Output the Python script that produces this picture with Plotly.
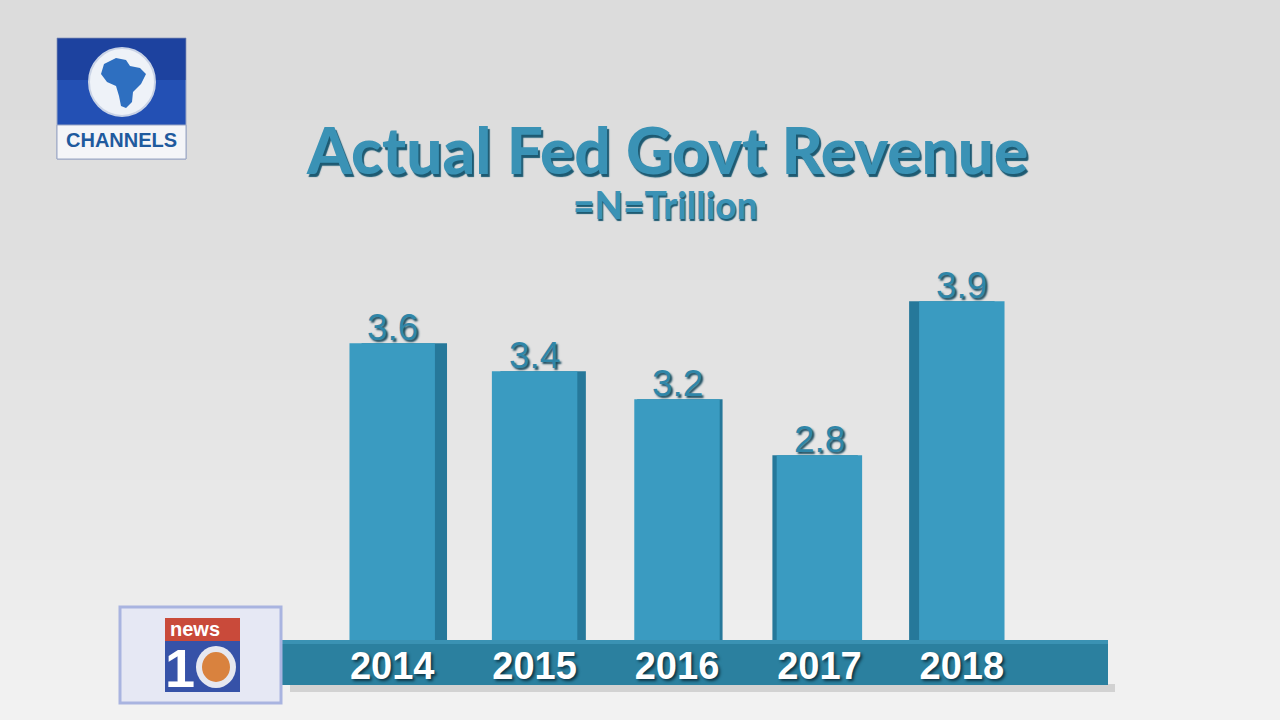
import plotly.graph_objects as go

years = ["2014", "2015", "2016", "2017", "2018"]
revenue = [3.6, 3.4, 3.2, 2.8, 3.9]
value_labels = ["3.6", "3.4", "3.2", "2.8", "3.9"]

title_text = "Actual Fed Govt Revenue"
subtitle_text = "=N=Trillion"

# plot area in pixels (used for placing the decorations)
L, R, T, B = 321, 247, 250, 80
W, H = 1280 - L - R, 720 - T - B


def px(x):
    return (x - L) / W


def py(y):
    return (720 - B - y) / H


bar_col = "#3a9bc1"
side_col = "#26789a"
base_col = "#2b809f"

# perspective: side faces shift right on the left, left on the right
side_shift = [0.085, 0.06, 0.02, -0.03, -0.07]

fig = go.Figure()

fig.add_trace(go.Bar(
    x=years, y=revenue, width=0.6,
    offset=[-0.3 + s for s in side_shift],
    marker=dict(color=side_col, line=dict(width=0)),
    hoverinfo="skip", showlegend=False,
))
fig.add_trace(go.Bar(
    x=years, y=revenue, width=0.6, offset=-0.3,
    marker=dict(color=bar_col, line=dict(width=0)),
    showlegend=False,
))

shapes = []
# background: soft vertical gradient from grey to near white
n_bands = 36
for i in range(n_bands):
    t = i / (n_bands - 1)
    g = int(220 + 22 * t ** 1.6)
    shapes.append(dict(type="rect", xref="paper", yref="paper", layer="below",
                       x0=px(0), x1=px(1280), y0=py((i + 1) * 20),
                       y1=py(i * 20), fillcolor=f"rgb({g},{g},{g})",
                       line=dict(width=0)))
# soft floor shadow under platform
shapes.append(dict(type="rect", xref="paper", yref="paper", layer="below",
                   x0=px(290), x1=px(1115), y0=py(692), y1=py(684),
                   fillcolor="rgba(120,120,120,0.25)", line=dict(width=0)))
# platform
shapes.append(dict(type="rect", xref="paper", yref="paper", layer="below",
                   x0=px(282), x1=px(1108), y0=py(685), y1=py(640),
                   fillcolor=base_col, line=dict(width=0)))
shapes.append(dict(type="rect", xref="paper", yref="paper", layer="below",
                   x0=px(282), x1=px(1108), y0=py(644), y1=py(640),
                   fillcolor="#3a92b3", line=dict(width=0)))

# CHANNELS logo
shapes.append(dict(type="rect", xref="paper", yref="paper",
                   x0=px(57), x1=px(186), y0=py(159), y1=py(38),
                   fillcolor="#2350b4", line=dict(color="#9aa6c4", width=1)))
shapes.append(dict(type="rect", xref="paper", yref="paper",
                   x0=px(57), x1=px(186), y0=py(80), y1=py(38),
                   fillcolor="rgba(20,40,120,0.35)", line=dict(width=0)))
shapes.append(dict(type="circle", xref="paper", yref="paper",
                   x0=px(89), x1=px(155), y0=py(116), y1=py(48),
                   fillcolor="#eef2f8", line=dict(color="#c9d3e6", width=2)))
africa = [(104, 64), (116, 58), (126, 60), (130, 66), (140, 68), (146, 74),
          (141, 84), (133, 92), (132, 102), (126, 108), (121, 106),
          (119, 96), (116, 86), (107, 82), (101, 74)]
path = "M " + " L ".join(f"{px(a)},{py(b)}" for a, b in africa) + " Z"
shapes.append(dict(type="path", xref="paper", yref="paper", path=path,
                   fillcolor="#2e6fc0", line=dict(width=0)))
shapes.append(dict(type="rect", xref="paper", yref="paper",
                   x0=px(57), x1=px(186), y0=py(159), y1=py(125),
                   fillcolor="#f4f5f8", line=dict(color="#9aa6c4", width=1)))

# news at 10 logo
shapes.append(dict(type="rect", xref="paper", yref="paper",
                   x0=px(120), x1=px(281), y0=py(703), y1=py(607),
                   fillcolor="#e6e8f4", line=dict(color="#a9b4e0", width=3)))
shapes.append(dict(type="rect", xref="paper", yref="paper",
                   x0=px(165), x1=px(240), y0=py(641), y1=py(618),
                   fillcolor="#c94a3a", line=dict(width=0)))
shapes.append(dict(type="rect", xref="paper", yref="paper",
                   x0=px(165), x1=px(240), y0=py(692), y1=py(641),
                   fillcolor="#3652a8", line=dict(width=0)))
shapes.append(dict(type="circle", xref="paper", yref="paper",
                   x0=px(196), x1=px(236), y0=py(688), y1=py(646),
                   fillcolor="#e6e8f0", line=dict(width=0)))
shapes.append(dict(type="circle", xref="paper", yref="paper",
                   x0=px(202), x1=px(230), y0=py(682), y1=py(652),
                   fillcolor="#d9823e", line=dict(width=0)))

annotations = [
    dict(text=title_text, xref="paper", yref="paper", x=px(667), y=py(149),
         showarrow=False, xanchor="center", yanchor="middle",
         font=dict(family="Lato", size=64, weight=900, color="#3a92b5",
                   shadow="2px 3px 1px #1d5a72")),
    dict(text=subtitle_text, xref="paper", yref="paper", x=px(665), y=py(204),
         showarrow=False, xanchor="center", yanchor="middle",
         font=dict(family="Lato", size=37, weight=900, color="#3a92b5",
                   shadow="1px 2px 1px #1d5a72")),
    dict(text="CHANNELS", xref="paper", yref="paper", x=px(121), y=py(140),
         showarrow=False, xanchor="center", yanchor="middle",
         font=dict(family="Liberation Sans", size=20, weight="bold",
                   color="#1f5a9e")),
    dict(text="news", xref="paper", yref="paper", x=px(195), y=py(629),
         showarrow=False, xanchor="center", yanchor="middle",
         font=dict(family="Liberation Sans", size=20, weight="bold",
                   color="white")),
    dict(text="1", xref="paper", yref="paper", x=px(180), y=py(668),
         showarrow=False, xanchor="center", yanchor="middle",
         font=dict(family="Liberation Sans", size=54, weight="bold",
                   color="white")),
]

# value labels sitting right on the bar tops (category index on x)
for i, (v, lab) in enumerate(zip(revenue, value_labels)):
    annotations.append(dict(
        text=lab, x=i, y=v, xref="x", yref="y", showarrow=False,
        xanchor="center", yanchor="bottom", yshift=-7,
        font=dict(family="Liberation Sans", size=37, color="#2f86a8",
                  shadow="2px 2px 2px #174a5e")))

fig.update_layout(
    width=1280, height=720,
    margin=dict(l=L, r=R, t=T, b=B),
    paper_bgcolor="#dedede", plot_bgcolor="rgba(0,0,0,0)",
    barmode="overlay", bargap=0.4,
    shapes=shapes, annotations=annotations,
    xaxis=dict(type="category", showgrid=False, zeroline=False,
               showline=False, ticks="",
               tickfont=dict(family="Liberation Sans", size=38, weight="bold",
                             color="white", shadow="2px 2px 3px #0d3444"),
               range=[-0.5, 4.5]),
    yaxis=dict(range=[1.48, 1.48 + H / 140], showgrid=False, zeroline=False,
               showticklabels=False, showline=False),
)

# drop the browser's default page margin so the figure fills the window
fig.write_html("out.html", config={"displayModeBar": False},
               post_script="document.body.style.margin='0';"
                           "document.body.style.overflow='hidden';")
